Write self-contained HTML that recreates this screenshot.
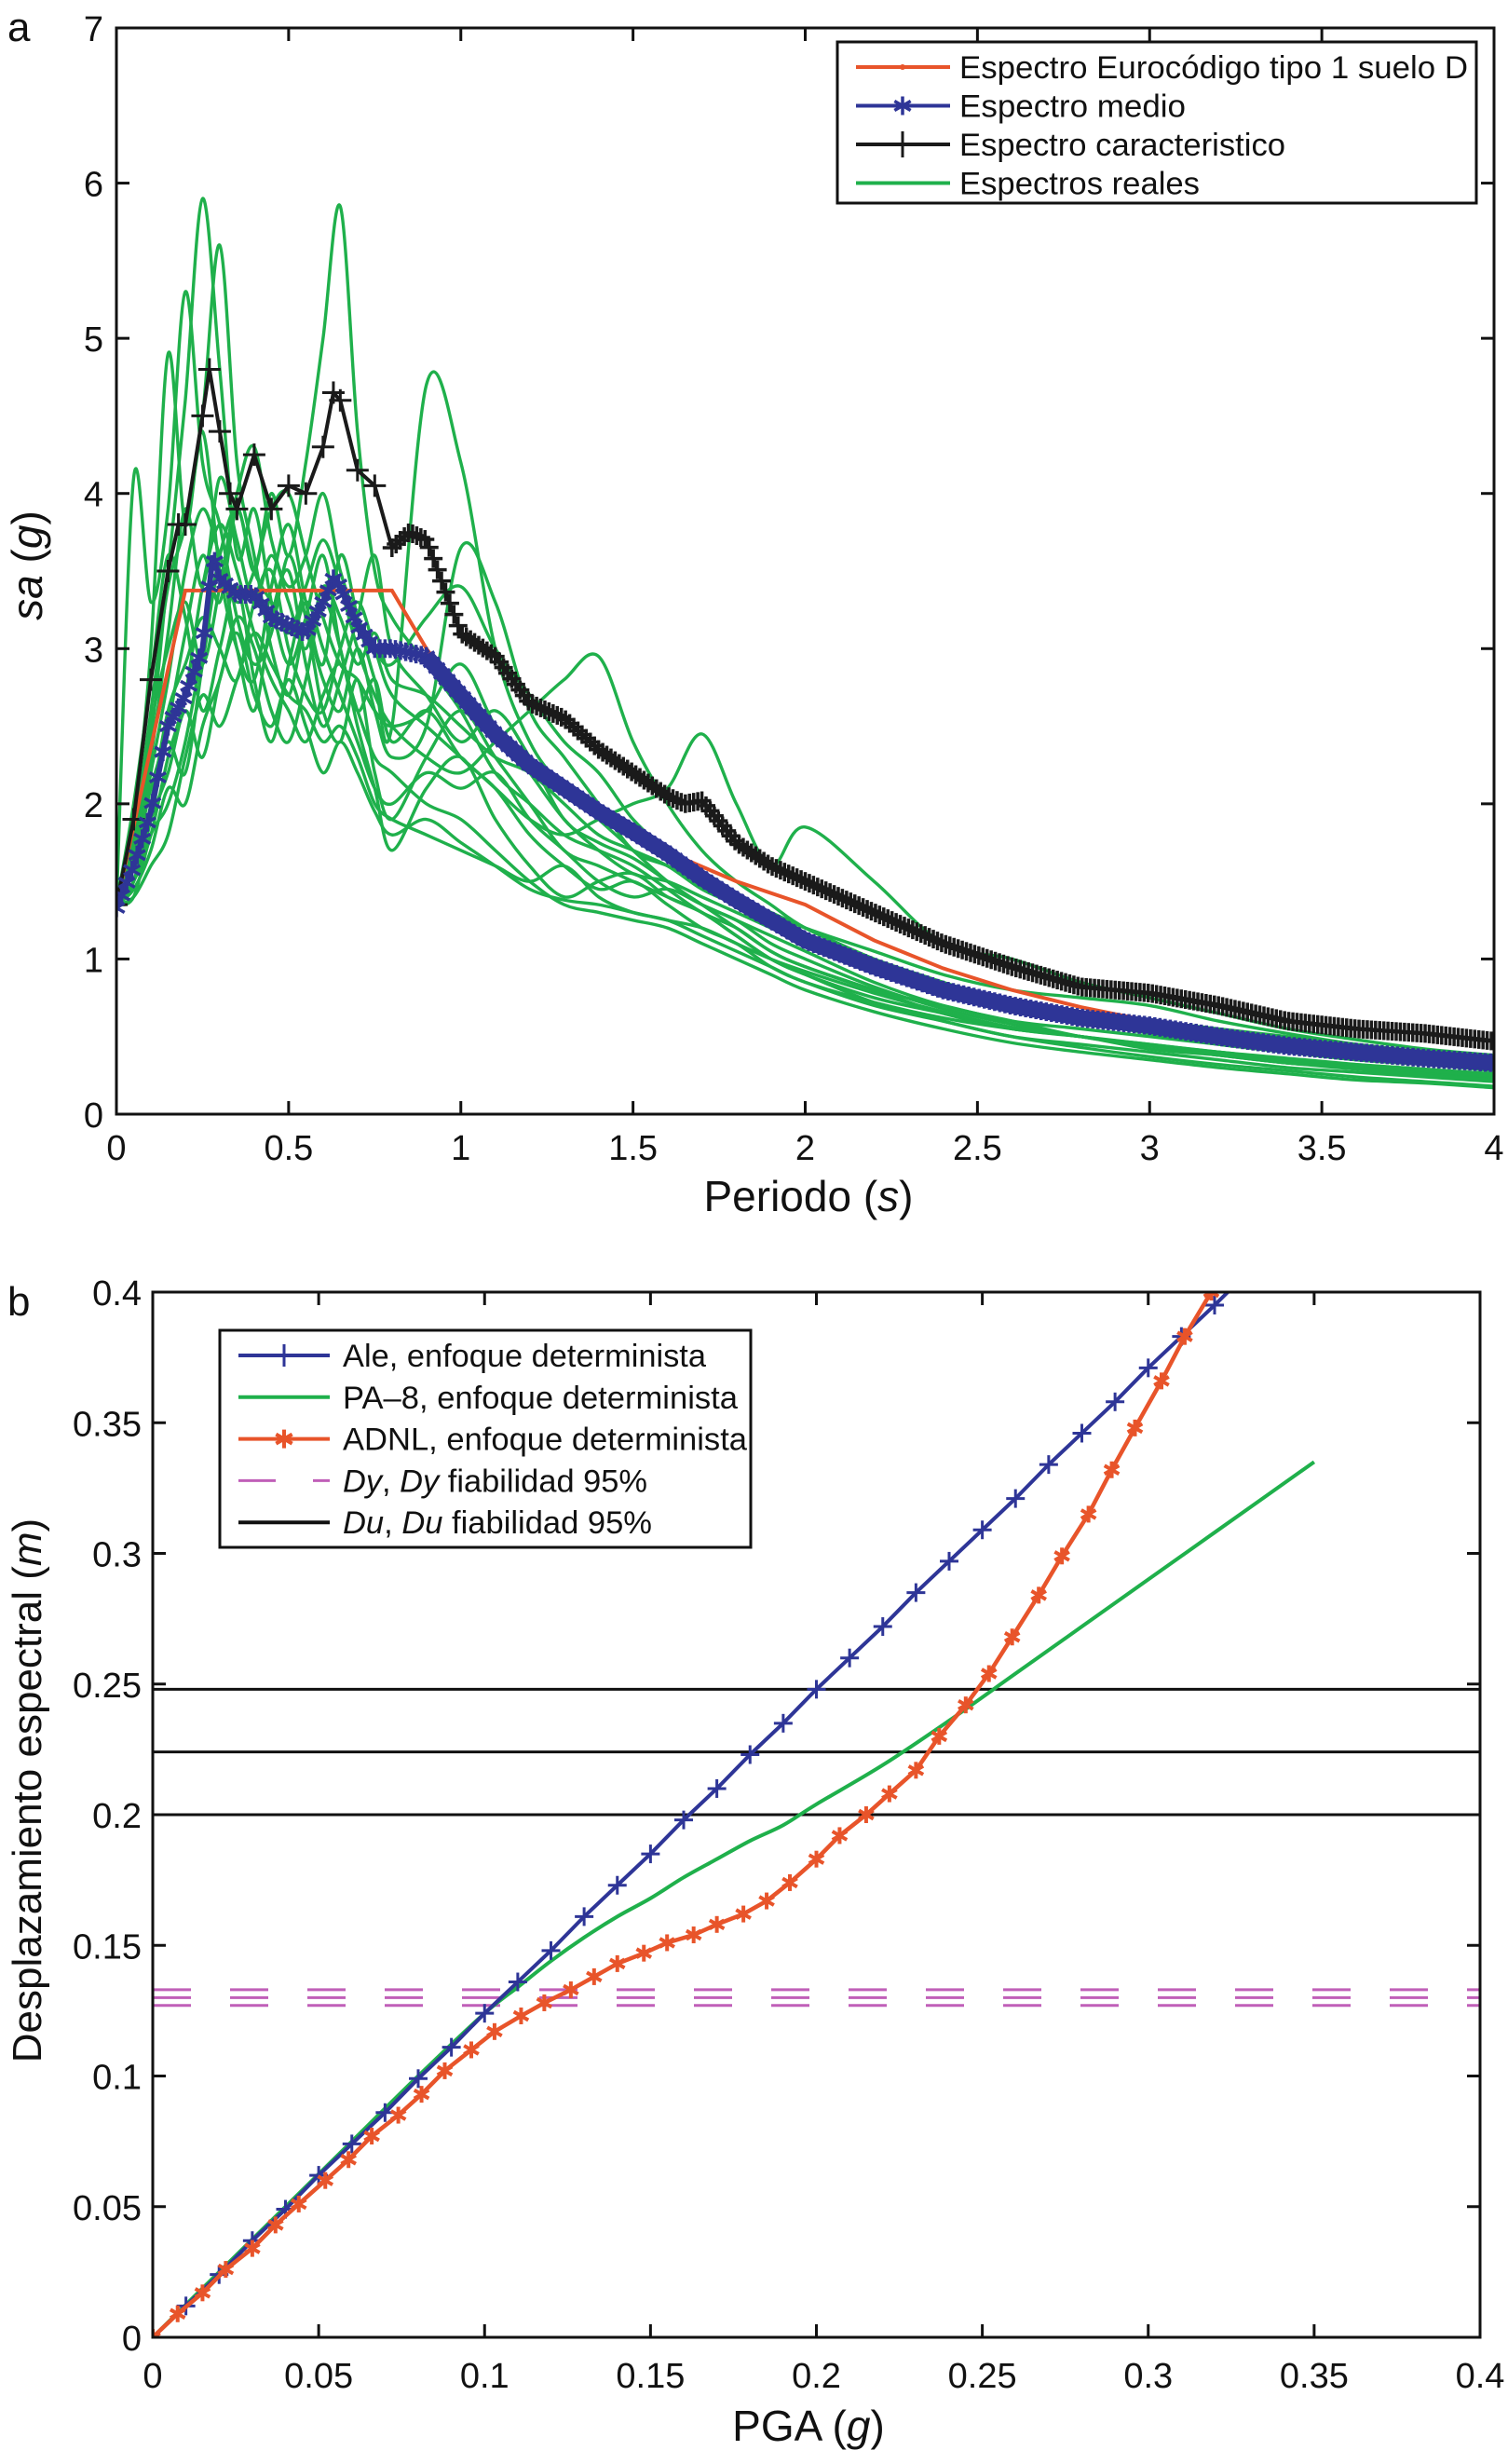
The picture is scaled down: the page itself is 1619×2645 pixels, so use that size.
<!DOCTYPE html>
<html><head><meta charset="utf-8"><style>
html,body{margin:0;padding:0;background:#fff}
svg{display:block;font-family:"Liberation Sans",Arial,sans-serif}
</style></head><body>
<svg id="fig" width="1619" height="2645" viewBox="0 0 1619 2645" xmlns="http://www.w3.org/2000/svg">
<g id="topChart"></g>
<g id="botChart"></g>
</svg>
<script>
// ---------- Chart a data ----------
const periodGrid = [0,.05,.1,.15,.2,.25,.3,.35,.4,.45,.5,.55,.6,.65,.7,.75,.8,.9,1,1.1,1.2,1.3,1.4,1.5,1.6,1.7,1.8,1.9,2,2.2,2.4,2.6,2.8,3,3.2,3.4,3.6,3.8,4];
const realSpectrum1 = [1.35,1.6,2.4,3.5,4.6,5.9,4.8,3.6,3.9,3.3,2.9,3.2,3.6,3.0,2.6,2.8,2.4,2.6,2.3,2.1,1.8,1.6,1.45,1.5,1.35,1.2,1.1,0.95,0.85,0.7,0.6,0.5,0.45,0.4,0.35,0.3,0.27,0.24,0.21];
const realSpectrum2 = [1.35,1.5,1.9,2.5,3.1,3.6,3.3,3.9,3.5,4.0,3.6,4.2,5.0,5.85,4.4,3.5,3.2,2.9,2.6,2.2,2.0,1.8,1.7,1.6,1.45,1.3,1.2,1.05,0.95,0.8,0.65,0.55,0.5,0.45,0.4,0.35,0.32,0.29,0.26];
const realSpectrum3 = [1.35,1.8,2.6,3.4,3.8,4.5,5.6,4.2,3.6,3.0,2.7,3.1,2.6,2.4,2.8,2.2,1.9,2.3,2.6,2.3,2.0,1.7,1.6,1.5,1.4,1.3,1.15,1.0,0.9,0.75,0.65,0.55,0.5,0.42,0.38,0.33,0.3,0.27,0.24];
const realSpectrum4 = [1.35,1.9,3.0,4.9,3.8,4.4,3.5,3.0,2.8,3.4,3.8,3.3,2.9,3.6,3.2,2.8,2.5,4.7,4.2,3.0,2.4,2.1,1.9,1.7,1.5,1.35,1.2,1.05,0.95,0.8,0.7,0.6,0.55,0.5,0.45,0.4,0.36,0.33,0.3];
const realSpectrum5 = [1.35,4.1,3.3,3.9,5.3,4.2,3.8,3.2,2.9,3.1,3.6,3.2,2.8,2.6,3.0,2.6,2.3,2.5,3.65,3.3,2.6,2.3,2.0,1.7,1.6,1.5,1.4,1.3,1.2,1.0,0.85,0.72,0.65,0.6,0.55,0.5,0.45,0.4,0.36];
const realSpectrum6 = [1.35,1.4,1.8,2.0,2.4,3.0,3.6,3.9,3.5,3.3,3.1,3.4,3.7,3.4,3.0,2.7,2.5,2.3,2.2,2.4,2.6,2.8,2.95,2.4,2.0,1.7,1.5,1.35,1.2,1.0,0.85,0.7,0.6,0.52,0.45,0.4,0.35,0.32,0.28];
const realSpectrum7 = [1.35,1.5,2.0,2.6,2.9,3.2,3.0,2.8,3.3,3.5,3.0,2.7,2.6,3.0,3.3,3.0,2.7,2.5,2.3,2.1,1.9,1.8,1.9,2.0,2.1,2.45,2.0,1.6,1.85,1.5,1.1,1.0,0.85,0.75,0.65,0.55,0.48,0.42,0.38];
const realSpectrum8 = [1.35,1.45,1.7,2.1,2.0,2.5,2.8,3.2,3.0,2.6,2.4,2.8,3.3,3.0,2.5,2.1,1.7,2.1,2.3,1.9,1.6,1.4,1.5,1.55,1.4,1.3,1.15,1.0,0.9,0.72,0.6,0.5,0.43,0.37,0.32,0.28,0.24,0.21,0.18];
const realSpectrum9 = [1.35,1.6,2.2,2.8,3.5,3.9,3.6,3.3,3.5,3.9,4.0,3.6,3.2,2.9,2.8,2.6,2.5,2.6,2.9,2.5,2.2,1.9,1.7,1.55,1.5,1.4,1.3,1.2,1.1,0.95,0.8,0.7,0.62,0.55,0.5,0.45,0.4,0.36,0.32];
const realSpectrum10 = [1.35,1.5,1.8,2.3,2.7,3.4,3.8,3.5,3.1,2.8,2.6,2.4,2.7,2.9,2.6,2.3,2.2,2.0,1.9,1.7,1.5,1.35,1.3,1.25,1.2,1.1,1.0,0.9,0.8,0.66,0.55,0.46,0.4,0.35,0.3,0.26,0.22,0.2,0.17];
const realSpectrum11 = [1.35,1.7,2.5,3.0,3.3,2.9,3.4,4.0,4.3,3.7,3.4,3.6,4.0,3.5,3.2,3.0,2.9,3.2,3.4,3.0,2.7,2.4,2.2,1.9,1.7,1.55,1.4,1.3,1.2,1.05,0.9,0.8,0.75,0.7,0.6,0.52,0.45,0.4,0.35];
const realSpectrum12 = [1.35,1.4,1.6,1.8,2.3,2.7,2.5,2.8,3.1,2.9,2.7,2.6,2.4,2.5,2.3,2.0,1.9,1.8,1.7,1.6,1.5,1.6,1.4,1.3,1.25,1.15,1.05,0.95,0.85,0.72,0.62,0.55,0.5,0.44,0.4,0.35,0.3,0.27,0.24];
const realSpectrum13 = [1.35,2.0,2.8,3.6,3.2,2.6,3.0,3.4,2.8,2.4,2.9,3.3,3.0,2.7,2.4,2.1,2.0,2.2,2.1,2.2,1.9,1.7,1.5,1.4,1.45,1.35,1.25,1.15,1.05,0.85,0.7,0.6,0.5,0.44,0.38,0.33,0.3,0.26,0.22];
const realSpectrum14 = [1.35,1.6,2.1,2.4,2.2,2.9,3.5,3.0,2.6,3.2,3.5,2.9,2.5,2.8,3.2,3.6,3.0,2.7,2.4,2.6,2.3,1.9,1.75,1.65,1.5,1.35,1.25,1.1,1.0,0.82,0.68,0.58,0.5,0.45,0.4,0.36,0.32,0.28,0.25];
const realSpectrum15 = [1.35,1.5,1.9,2.2,2.6,2.3,2.8,3.1,2.7,2.5,2.8,2.5,2.2,2.4,2.2,1.95,1.8,1.9,1.75,1.6,1.45,1.38,1.35,1.3,1.25,1.2,1.1,1.0,0.92,0.78,0.66,0.56,0.5,0.44,0.38,0.33,0.29,0.25,0.22];
const realSpectrum16 = [1.35,1.7,2.3,3.1,3.9,3.4,4.1,3.7,3.3,3.6,3.3,3.0,3.4,3.2,2.9,3.1,2.8,2.7,2.5,2.3,2.2,2.0,1.8,1.7,1.6,1.45,1.35,1.25,1.15,0.98,0.82,0.7,0.62,0.55,0.48,0.42,0.38,0.34,0.3];

const ec8Periods = [0,0.2,0.8,0.9,1.0,1.2,1.4,1.6,1.8,2.0,2.2,2.4,2.6,2.8,3.0,3.2,3.4,3.6,3.8,4.0];
const ec8Values  = [1.35,3.375,3.375,3.0,2.7,2.25,1.93,1.69,1.5,1.35,1.12,0.94,0.80,0.69,0.60,0.53,0.47,0.42,0.37,0.34];

const meanPeriods = [0,0.05,0.1,0.15,0.2,0.25,0.28,0.3,0.35,0.4,0.45,0.5,0.55,0.6,0.63,0.65,0.7,0.75,0.8,0.9,1.0,1.1,1.2,1.3,1.4,1.5,1.6,1.7,1.8,1.9,2.0,2.2,2.4,2.6,2.8,3.0,3.2,3.4,3.6,3.8,4.0];
const meanValues  = [1.33,1.6,1.95,2.5,2.7,3.0,3.6,3.45,3.35,3.35,3.2,3.15,3.1,3.3,3.45,3.4,3.15,3.0,3.0,2.95,2.7,2.45,2.25,2.1,1.95,1.82,1.68,1.52,1.38,1.25,1.12,0.95,0.8,0.7,0.62,0.57,0.5,0.44,0.4,0.36,0.33];

const charPeriods = [0,0.05,0.1,0.15,0.18,0.2,0.25,0.27,0.3,0.33,0.35,0.4,0.45,0.5,0.55,0.6,0.63,0.65,0.7,0.75,0.8,0.85,0.9,0.95,1.0,1.1,1.2,1.25,1.3,1.4,1.5,1.6,1.65,1.7,1.8,1.9,2.0,2.2,2.4,2.6,2.8,3.0,3.2,3.4,3.6,3.8,4.0];
const charValues  = [1.35,1.9,2.8,3.5,3.8,3.8,4.5,4.8,4.4,4.0,3.9,4.25,3.9,4.05,4.0,4.3,4.65,4.6,4.15,4.05,3.65,3.75,3.7,3.4,3.1,2.95,2.65,2.6,2.55,2.35,2.2,2.05,2.0,2.02,1.75,1.6,1.5,1.3,1.1,0.95,0.82,0.78,0.7,0.6,0.55,0.52,0.47];

const topXTicks = [0,0.5,1,1.5,2,2.5,3,3.5,4];
const topXTickLabels = ["0","0.5","1","1.5","2","2.5","3","3.5","4"];
const topYTicks = [0,1,2,3,4,5,6,7];
const topYTickLabels = ["0","1","2","3","4","5","6","7"];

// ---------- Chart b data ----------
const alePGA = [0,.01,.02,.03,.04,.05,.06,.07,.08,.09,.1,.11,.12,.13,.14,.15,.16,.17,.18,.19,.2,.21,.22,.23,.24,.25,.26,.27,.28,.29,.3,.31,.32,.324];
const aleSd  = [0,0.012,0.024,0.037,0.049,0.062,0.074,0.086,0.099,0.111,0.124,0.136,0.148,0.161,0.173,0.185,0.198,0.21,0.223,0.235,0.248,0.26,0.272,0.285,0.297,0.309,0.321,0.334,0.346,0.358,0.371,0.383,0.395,0.4];
const pa8PGA = [0,0.02,0.04,0.06,0.08,0.1,0.11,0.12,0.13,0.14,0.15,0.16,0.17,0.18,0.19,0.2,0.22,0.24,0.26,0.28,0.3,0.32,0.35];
const pa8Sd  = [0,0.025,0.05,0.075,0.1,0.124,0.134,0.144,0.153,0.161,0.168,0.176,0.183,0.19,0.196,0.204,0.219,0.236,0.254,0.272,0.29,0.308,0.335];
const adnlPGA = [0,.0075,.015,.022,.03,.037,.044,.052,.059,.066,.074,.081,.088,.096,.103,.111,.118,.126,.133,.14,.148,.155,.163,.17,.178,.185,.192,.2,.207,.215,.222,.23,.237,.245,.252,.259,.267,.274,.282,.289,.296,.304,.311,.319];
const adnlSd  = [0,.009,.017,.026,.034,.043,.051,.06,.068,.077,.085,.093,.102,.11,.117,.123,.128,.133,.138,.143,.147,.151,.154,.158,.162,.167,.174,.183,.192,.2,.208,.217,.23,.242,.254,.268,.284,.299,.315,.332,.348,.366,.383,.4];
const duLevels = [0.248,0.224,0.2];
const dyLevels = [0.127,0.130,0.133];
const botXTicks = [0,0.05,0.1,0.15,0.2,0.25,0.3,0.35,0.4];
const botXTickLabels = ["0","0.05","0.1","0.15","0.2","0.25","0.3","0.35","0.4"];
const botYTicks = [0,0.05,0.1,0.15,0.2,0.25,0.3,0.35,0.4];
const botYTickLabels = ["0","0.05","0.1","0.15","0.2","0.25","0.3","0.35","0.4"];

const NS = "http://www.w3.org/2000/svg";
function mk(parent, tag, attrs, text){
  const e = document.createElementNS(NS, tag);
  for (const k in attrs) e.setAttribute(k, attrs[k]);
  if (text !== undefined) e.textContent = text;
  parent.appendChild(e);
  return e;
}
function smoothPath(pts){
  let d = "M" + pts[0][0] + "," + pts[0][1];
  for (let i = 0; i < pts.length - 1; i++){
    const p0 = pts[Math.max(0,i-1)], p1 = pts[i], p2 = pts[i+1], p3 = pts[Math.min(pts.length-1,i+2)];
    const c1x = p1[0] + (p2[0]-p0[0])/6, c1y = p1[1] + (p2[1]-p0[1])/6;
    const c2x = p2[0] - (p3[0]-p1[0])/6, c2y = p2[1] - (p3[1]-p1[1])/6;
    d += " C" + c1x + "," + c1y + " " + c2x + "," + c2y + " " + p2[0] + "," + p2[1];
  }
  return d;
}
function linePath(pts){ return pts.map((p,i)=>(i?"L":"M")+p[0]+","+p[1]).join(" "); }
function interp(xs, ys, x){
  for (let i=0;i<xs.length-1;i++) if (x>=xs[i] && x<=xs[i+1]) return ys[i] + (ys[i+1]-ys[i])*(x-xs[i])/(xs[i+1]-xs[i]);
  return ys[ys.length-1];
}
function star(g, x, y, r, color, w){
  for (let a=0;a<3;a++){
    const t = a*Math.PI/3 + Math.PI/2;
    mk(g,"line",{x1:x-r*Math.cos(t),y1:y-r*Math.sin(t),x2:x+r*Math.cos(t),y2:y+r*Math.sin(t),stroke:color,"stroke-width":w});
  }
}
function plus(g, x, y, r, color, w){
  mk(g,"line",{x1:x-r,y1:y,x2:x+r,y2:y,stroke:color,"stroke-width":w});
  mk(g,"line",{x1:x,y1:y-r,x2:x,y2:y+r,stroke:color,"stroke-width":w});
}

// ================= Chart a =================
(function(){
  const root = document.getElementById("topChart");
  const L=125, R=1604, T=30, B=1196;
  const sx = v => L + (v/4)*(R-L);
  const sy = v => B - (v/7)*(B-T);
  mk(root,"defs",{}).innerHTML = '<clipPath id="clipA"><rect x="'+L+'" y="'+T+'" width="'+(R-L)+'" height="'+(B-T)+'"/></clipPath>';
  const plot = mk(root,"g",{"clip-path":"url(#clipA)"});
  
  

  const reals = [realSpectrum1,realSpectrum2,realSpectrum3,realSpectrum4,realSpectrum5,realSpectrum6,realSpectrum7,realSpectrum8,realSpectrum9,realSpectrum10,realSpectrum11,realSpectrum12,realSpectrum13,realSpectrum14,realSpectrum15,realSpectrum16];
  reals.forEach((s,i)=>{
    const p = mk(plot,"path",{d:smoothPath(periodGrid.map((t,j)=>[sx(t),sy(s[j])])),fill:"none",stroke:"#1fb04b","stroke-width":3.4});
    
    
  });
  const ec = mk(plot,"path",{d:linePath(ec8Periods.map((t,j)=>[sx(t),sy(ec8Values[j])])),fill:"none",stroke:"#e8542a","stroke-width":4});
  
  

  const cg = mk(plot,"g",{});
  
  
  mk(cg,"path",{d:linePath(charPeriods.map((t,j)=>[sx(t),sy(charValues[j])])),fill:"none",stroke:"#1a1a1a","stroke-width":4});
  charPeriods.forEach((t,j)=>{ if (t<0.8) plus(cg,sx(t),sy(charValues[j]),12,"#1a1a1a",3); });
  for (let t=0.8;t<=4.0001;t+=0.012){ plus(cg,sx(t),sy(interp(charPeriods,charValues,t)),10,"#1a1a1a",3.5); }

  const mg = mk(plot,"g",{});
  
  
  mk(mg,"path",{d:linePath(meanPeriods.map((t,j)=>[sx(t),sy(meanValues[j])])),fill:"none",stroke:"#2e3597","stroke-width":6});
  for (let t=0;t<=4.0001;t+=0.015){ star(mg,sx(t),sy(interp(meanPeriods,meanValues,t)),10,"#2e3597",3.5); }
  mk(mg,"path",{d:linePath(meanPeriods.filter(t=>t>=0.9).map(t=>[sx(t),sy(interp(meanPeriods,meanValues,t))])),fill:"none",stroke:"#2e3597","stroke-width":17});

  const ax = mk(root,"g",{});
  
  
  mk(ax,"rect",{x:L,y:T,width:R-L,height:B-T,fill:"none",stroke:"#111","stroke-width":3});
  topXTicks.forEach((v,i)=>{
    const x = sx(v);
    mk(ax,"line",{x1:x,y1:B,x2:x,y2:B-14,stroke:"#111","stroke-width":3});
    mk(ax,"line",{x1:x,y1:T,x2:x,y2:T+14,stroke:"#111","stroke-width":3});
    const t = mk(ax,"text",{x:x,y:1245,"text-anchor":"middle","font-size":38,fill:"#111"},topXTickLabels[i]);
    
    
  });
  topYTicks.forEach((v,i)=>{
    const y = sy(v);
    mk(ax,"line",{x1:L,y1:y,x2:L+14,y2:y,stroke:"#111","stroke-width":3});
    mk(ax,"line",{x1:R,y1:y,x2:R-14,y2:y,stroke:"#111","stroke-width":3});
    const t = mk(ax,"text",{x:111,y:y+14,"text-anchor":"end","font-size":38,fill:"#111"},topYTickLabels[i]);
    
    
  });
  const xt = mk(ax,"text",{x:868,y:1300,"text-anchor":"middle","font-size":46,fill:"#111"});
  xt.innerHTML = 'Periodo (<tspan font-style="italic">s</tspan>)';
  
  
  const yt = mk(ax,"text",{x:0,y:0,"text-anchor":"middle","font-size":46,fill:"#111",transform:"translate(45,607) rotate(-90)"});
  yt.innerHTML = '<tspan font-style="italic">sa</tspan> (<tspan font-style="italic">g</tspan>)';
  
  
  const pl = mk(ax,"text",{x:8,y:44,"font-size":44,fill:"#111"},"a");
  
  

  const lg = mk(root,"g",{});
  
  
  mk(lg,"rect",{x:899,y:45,width:686,height:173,fill:"#fff",stroke:"#111","stroke-width":3});
  const items = [["Espectro Eurocódigo tipo 1 suelo D","#e8542a","dot",546],["Espectro medio","#2e3597","star",243],["Espectro caracteristico","#1a1a1a","plus",350],["Espectros reales","#1fb04b","none",258]];
  items.forEach((it,i)=>{
    const y = 72 + i*41.5;
    const e = mk(lg,"g",{});
    
    
    mk(e,"line",{x1:919,y1:y,x2:1020,y2:y,stroke:it[1],"stroke-width":4});
    if (it[2]==="dot") mk(e,"circle",{cx:969,cy:y,r:3,fill:it[1]});
    if (it[2]==="star") star(e,969,y,10,it[1],3.5);
    if (it[2]==="plus") plus(e,969,y,14,it[1],3);
    mk(e,"text",{x:1030,y:y+12,"font-size":34,fill:"#111",textLength:it[3],lengthAdjust:"spacingAndGlyphs"},it[0]);
  });
})();

// ================= Chart b =================
(function(){
  const root = document.getElementById("botChart");
  const L=164, R=1589, T=1387, B=2509;
  const sx = v => L + (v/0.4)*(R-L);
  const sy = v => B - (v/0.4)*(B-T);
  mk(root,"defs",{}).innerHTML = '<clipPath id="clipB"><rect x="'+L+'" y="'+T+'" width="'+(R-L)+'" height="'+(B-T)+'"/></clipPath>';
  const plot = mk(root,"g",{"clip-path":"url(#clipB)"});
  
  

  duLevels.forEach(v=>{
    const l = mk(plot,"line",{x1:L,y1:sy(v),x2:R,y2:sy(v),stroke:"#111","stroke-width":3});
    
    
  });
  dyLevels.forEach(v=>{
    const l = mk(plot,"line",{x1:L,y1:sy(v),x2:R,y2:sy(v),stroke:"#c05fb8","stroke-width":3,"stroke-dasharray":"41 42"});
    
    
  });

  const pg = mk(plot,"path",{d:smoothPath(pa8PGA.map((x,i)=>[sx(x),sy(pa8Sd[i])])),fill:"none",stroke:"#1fb04b","stroke-width":4});
  
  

  const ag = mk(plot,"g",{});
  
  
  mk(ag,"path",{d:linePath(alePGA.map((x,i)=>[sx(x),sy(aleSd[i])])),fill:"none",stroke:"#2e3597","stroke-width":4});
  alePGA.forEach((x,i)=>{ if (x<=0.32) plus(ag,sx(x),sy(aleSd[i]),10,"#2e3597",3); });

  const og = mk(plot,"g",{});
  
  
  mk(og,"path",{d:linePath(adnlPGA.map((x,i)=>[sx(x),sy(adnlSd[i])])),fill:"none",stroke:"#e8542a","stroke-width":4.5});
  adnlPGA.forEach((x,i)=>{ star(og,sx(x),sy(adnlSd[i]),9,"#e8542a",4); });

  const ax = mk(root,"g",{});
  
  
  mk(ax,"rect",{x:L,y:T,width:R-L,height:B-T,fill:"none",stroke:"#111","stroke-width":3});
  botXTicks.forEach((v,i)=>{
    const x = sx(v);
    mk(ax,"line",{x1:x,y1:B,x2:x,y2:B-14,stroke:"#111","stroke-width":3});
    mk(ax,"line",{x1:x,y1:T,x2:x,y2:T+14,stroke:"#111","stroke-width":3});
    const t = mk(ax,"text",{x:x,y:2563,"text-anchor":"middle","font-size":38,fill:"#111"},botXTickLabels[i]);
    
    
  });
  botYTicks.forEach((v,i)=>{
    const y = sy(v);
    mk(ax,"line",{x1:L,y1:y,x2:L+14,y2:y,stroke:"#111","stroke-width":3});
    mk(ax,"line",{x1:R,y1:y,x2:R-14,y2:y,stroke:"#111","stroke-width":3});
    const t = mk(ax,"text",{x:152,y:y+14,"text-anchor":"end","font-size":38,fill:"#111"},botYTickLabels[i]);
    
    
  });
  const xt = mk(ax,"text",{x:868,y:2620,"text-anchor":"middle","font-size":46,fill:"#111"});
  xt.innerHTML = 'PGA (<tspan font-style="italic">g</tspan>)';
  
  
  const yt = mk(ax,"text",{x:0,y:0,"text-anchor":"middle","font-size":44,fill:"#111",transform:"translate(44,1922) rotate(-90)"});
  yt.innerHTML = 'Desplazamiento espectral (<tspan font-style="italic">m</tspan>)';
  
  
  const pl = mk(ax,"text",{x:8,y:1412,"font-size":44,fill:"#111"},"b");
  
  

  const lg = mk(root,"g",{});
  
  
  mk(lg,"rect",{x:236,y:1428,width:570,height:233,fill:"#fff",stroke:"#111","stroke-width":3});
  const items = [
    ["Ale, enfoque determinista","#2e3597","plus",390],
    ["PA\u20138, enfoque determinista","#1fb04b","dot",424],
    ["ADNL, enfoque determinista","#e8542a","star",434],
    ["Dy|, |Dy| fiabilidad 95%","#c05fb8","dash",327],
    ["Du|, |Du| fiabilidad 95%","#111","none",332]];
  items.forEach((it,i)=>{
    const y = 1455 + i*44.8;
    const e = mk(lg,"g",{});
    
    
    if (it[2]==="dash"){
      mk(e,"line",{x1:256,y1:y,x2:296,y2:y,stroke:it[1],"stroke-width":3});
      mk(e,"line",{x1:336,y1:y,x2:354,y2:y,stroke:it[1],"stroke-width":3});
    } else {
      mk(e,"line",{x1:256,y1:y,x2:354,y2:y,stroke:it[1],"stroke-width":4});
    }
    if (it[2]==="plus") plus(e,305,y,12,it[1],3);
    if (it[2]==="star") star(e,305,y,10,it[1],4);
    const t = mk(e,"text",{x:368,y:y+12,"font-size":34,fill:"#111",textLength:it[3],lengthAdjust:"spacingAndGlyphs"});
    if (it[0].indexOf("|")>=0){
      const p = it[0].split("|");
      t.innerHTML = '<tspan font-style="italic">'+p[0]+'</tspan>'+p[1]+'<tspan font-style="italic">'+p[2]+'</tspan>'+p[3];
    } else t.textContent = it[0];
  });
})();
</script>
</body></html>
